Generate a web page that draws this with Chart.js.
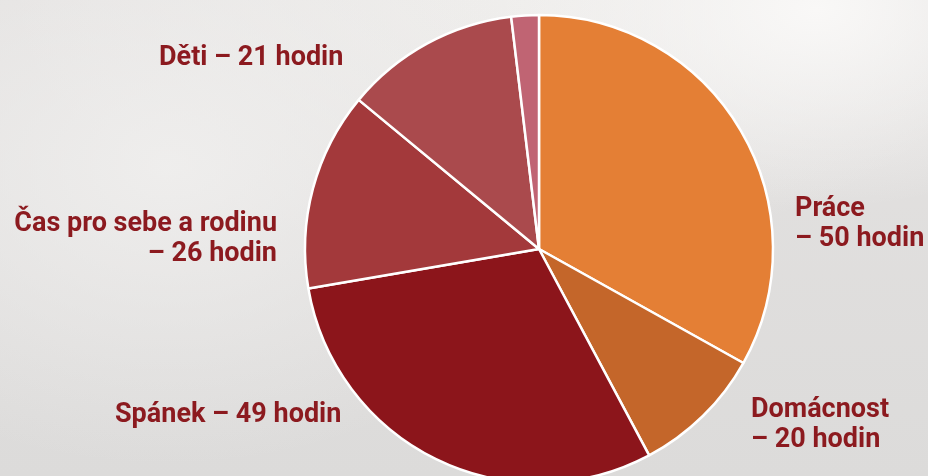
<!DOCTYPE html>
<html lang="cs">
<head>
<meta charset="utf-8">
<script src="https://cdn.jsdelivr.net/npm/chart.js@4"></script>
<style>
  html, body { margin: 0; padding: 0; }
  body {
    width: 928px; height: 476px; overflow: hidden; position: relative;
    background:
      radial-gradient(ellipse 320px 200px at 88% 2%, rgba(250,249,248,0.95), rgba(250,249,248,0) 100%),
      radial-gradient(ellipse 420px 300px at 18% 35%, rgba(240,239,238,0.9), rgba(240,239,238,0) 100%),
      radial-gradient(ellipse 500px 260px at 55% 0%, rgba(242,241,239,0.8), rgba(242,241,239,0) 100%),
      linear-gradient(180deg, #e4e2e1 0%, #dcdbda 100%);
  }
  #wrap { position: absolute; left: 0; top: 0; width: 928px; height: 500px; }
</style>
</head>
<body>
<div id="wrap"><canvas id="pieChart"></canvas></div>
<script>
/* ============================================================
   DATA: týdenní rozložení času
============================================================ */

const kategorie = ["Práce", "Domácnost", "Spánek", "Čas pro sebe a rodinu", "Děti", "Ostatní"];
const hodiny    = [50, 20, 49, 26, 21, null];
// podíl výseče (v procentech kruhu)
const podil     = [33.1, 9.1, 30.1, 13.7, 12.1, 1.9];
const barvy     = ["#e47f35", "#c4662a", "#8c151b", "#a3393b", "#aa4a4d", "#c06473"];

/* ============================================================
   POPISKY (rozmístění)
============================================================ */

const popiskyPozice = [
    { x: 795, y: 216, align: "left" },
    { x: 751, y: 417, align: "left" },
    { x: 115, y: 422, align: "left", jedenRadek: true },
    { x: 277, y: 231, align: "right" },
    { x: 159, y: 65,  align: "left", jedenRadek: true },
    null
];

const popiskyPlugin = {
    id: "popisky",
    afterDraw(chart) {
        const ctx = chart.ctx;
        ctx.save();
        ctx.fillStyle = "#8c1a1f";
        ctx.font = "bold 27px Roboto";
        ctx.textBaseline = "alphabetic";
        kategorie.forEach((k, i) => {
            const p = popiskyPozice[i];
            if (!p || hodiny[i] == null) return;
            ctx.textAlign = p.align;
            const druhy = "– " + hodiny[i] + " hodin";
            if (p.jedenRadek) {
                ctx.fillText(k + " " + druhy, p.x, p.y);
            } else {
                ctx.fillText(k, p.x, p.y);
                ctx.fillText(druhy, p.x, p.y + 30);
            }
        });
        ctx.restore();
    }
};

/* ============================================================
   GRAF
============================================================ */

const ctx = document.getElementById("pieChart");
new Chart(ctx, {
    type: "pie",
    data: {
        labels: kategorie,
        datasets: [{
            data: podil,
            backgroundColor: barvy,
            borderColor: "#ffffff",
            borderWidth: 2.5
        }]
    },
    options: {
        responsive: true,
        maintainAspectRatio: false,
        animation: false,
        radius: 234,
        layout: { padding: { left: 305, right: 155, top: 15, bottom: 17 } },
        plugins: {
            legend: { display: false },
            tooltip: { enabled: false }
        }
    },
    plugins: [popiskyPlugin]
});
</script>
</body>
</html>
